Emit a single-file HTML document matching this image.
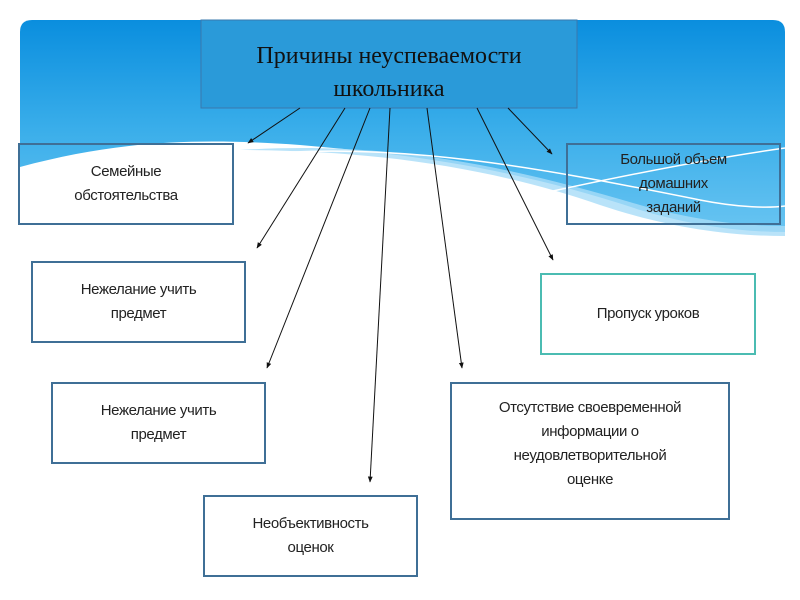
<!DOCTYPE html>
<html><head><meta charset="utf-8"><style>
body{margin:0;width:800px;height:600px;background:#fff;overflow:hidden;position:relative;font-family:"Liberation Sans",sans-serif}
.b{position:absolute;box-sizing:border-box;border:2px solid #3f6f96;background:#fff;display:flex;align-items:center;justify-content:center;text-align:center;font-size:15px;line-height:24px;color:#222;letter-spacing:-0.4px}
</style></head><body>
<svg width="800" height="600" style="position:absolute;left:0;top:0">
<defs>
<linearGradient id="g" x1="0" y1="0" x2="0" y2="1"><stop offset="0" stop-color="#0a8ede"/><stop offset="0.5" stop-color="#3aaeea"/><stop offset="1" stop-color="#6cc6f2"/></linearGradient>
<marker id="a" viewBox="0 0 10 10" refX="9" refY="5" markerWidth="6" markerHeight="6" orient="auto"><path d="M0,1 L10,5 L0,9 z" fill="#111"/></marker>
</defs>
<path d="M20,32 Q20,20 32,20 L773,20 Q785,20 785,32 L785,240 L20,240 Z" fill="url(#g)"/>
<path d="M20,167 C120,140 200,138 300,145 C420,155 520,170 640,210 C700,228 750,232 785,232 L785,240 L20,240 Z" fill="#fff"/>
<path d="M240,150 C400,140 520,170 640,205 C700,222 750,226 785,226 L785,236 C720,236 660,225 600,205 C500,170 380,150 240,150 Z" fill="#a8dcf7" opacity="0.8"/>
<path d="M250,155 C400,140 550,170 700,200 C740,208 770,208 785,206" stroke="#fff" stroke-width="1.5" fill="none"/>
<path d="M490,205 C600,180 700,160 785,148" stroke="#fff" stroke-width="1.5" fill="none"/>
<rect x="201" y="20" width="376" height="88" fill="#2a9ad9" stroke="#3a78ad" stroke-width="1"/>
<text x="389" y="63" text-anchor="middle" font-family="Liberation Serif" font-size="24" fill="#111">Причины неуспеваемости</text>
<text x="389" y="96" text-anchor="middle" font-family="Liberation Serif" font-size="24" fill="#111">школьника</text>
<g stroke="#111" stroke-width="1" marker-end="url(#a)">
<line x1="300" y1="108" x2="248" y2="143"/>
<line x1="345" y1="108" x2="257" y2="248"/>
<line x1="370" y1="108" x2="267" y2="368"/>
<line x1="390" y1="108" x2="370" y2="482"/>
<line x1="427" y1="108" x2="462" y2="368"/>
<line x1="477" y1="108" x2="553" y2="260"/>
<line x1="508" y1="108" x2="552" y2="154"/>
</g>
</svg>
<div class="b" style="left:18px;top:143px;width:216px;height:82px;background:transparent">Семейные<br>обстоятельства</div>
<div class="b" style="left:566px;top:143px;width:215px;height:82px;background:transparent">Большой объем<br>домашних<br>заданий</div>
<div class="b" style="left:31px;top:261px;width:215px;height:82px">Нежелание учить<br>предмет</div>
<div class="b" style="left:540px;top:273px;width:216px;height:82px;border-color:#4bbcb2">Пропуск уроков</div>
<div class="b" style="left:51px;top:382px;width:215px;height:82px">Нежелание учить<br>предмет</div>
<div class="b" style="left:450px;top:382px;width:280px;height:138px;align-items:flex-start;padding-top:12px">Отсутствие своевременной<br>информации о<br>неудовлетворительной<br>оценке</div>
<div class="b" style="left:203px;top:495px;width:215px;height:82px">Необъективность<br>оценок</div>
</body></html>
